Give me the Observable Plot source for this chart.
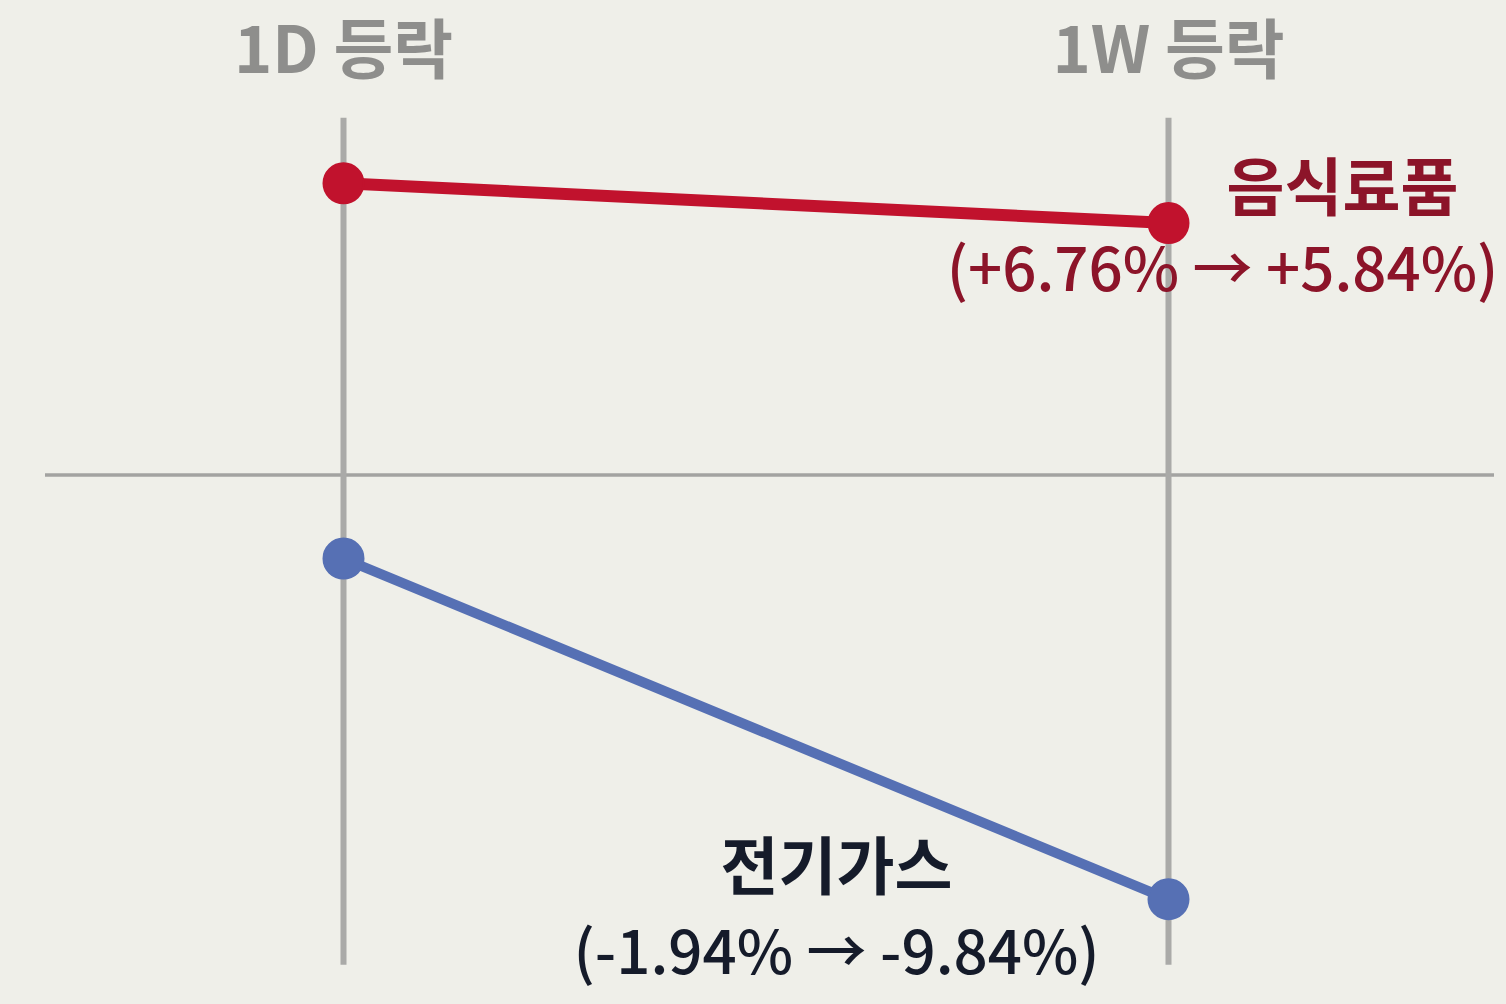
<!DOCTYPE html>
<html>
<head>
<meta charset="utf-8">
<script src="https://cdn.jsdelivr.net/npm/d3@7"></script>
<script src="https://cdn.jsdelivr.net/npm/@observablehq/plot@0.6"></script>
<style>
  html, body { margin: 0; padding: 0; background: #efefe9; }
  #chart svg { display: block; }
</style>
</head>
<body>
<div id="chart"></div>
<script>
// ---- data ----
const periods = ["1D 등락", "1W 등락"];
const sectors = ["음식료품", "전기가스"];
const food = [6.76, 5.84];      // 음식료품: 1D, 1W (%)
const power = [-1.94, -9.84];   // 전기가스: 1D, 1W (%)
const sectorLabels = ["(+6.76% → +5.84%)", "(-1.94% → -9.84%)"];
const gridExtent = [8.27, -11.37]; // vertical guide extent (%)
const yDomain = [-12.28, 11.0];

const colors = { "음식료품": "#c1122d", "전기가스": "#5670b4" };
const textColors = { "음식료품": "#8c1429", "전기가스": "#151b2a" };

const rows = [];
periods.forEach((p, i) => {
  rows.push({ sector: sectors[0], period: p, value: food[i] });
  rows.push({ sector: sectors[1], period: p, value: power[i] });
});
const ends = rows.filter(d => d.period === periods[1]);

const font = "'Noto Sans CJK KR', 'Noto Sans', sans-serif";

const chart = Plot.plot({
  width: 1506,
  height: 1004,
  margin: 0,
  style: { background: "#efefe9", fontFamily: font, overflow: "visible" },
  x: { type: "point", domain: periods, range: [343, 1168], padding: 0, axis: null },
  y: { domain: yDomain, range: [1004, 0], axis: null },
  marks: [
    Plot.ruleY([0], { stroke: "#a3a3a1", strokeWidth: 3.5, insetLeft: 45, insetRight: 12 }),
    Plot.ruleX(periods, { x: d => d, y1: gridExtent[0], y2: gridExtent[1], stroke: "#aaaaa8", strokeWidth: 6 }),
    Plot.text(periods, { x: d => d, frameAnchor: "top", lineAnchor: "middle", dy: 52, text: d => d, fontSize: 65, fontWeight: 700, fill: "#8e8e8c" }),
    Plot.line(rows.filter(d => d.sector === sectors[0]), { x: "period", y: "value", stroke: colors[sectors[0]], strokeWidth: 12 }),
    Plot.line(rows.filter(d => d.sector === sectors[1]), { x: "period", y: "value", stroke: colors[sectors[1]], strokeWidth: 10 }),
    Plot.dot(rows, { x: "period", y: "value", r: 20, fill: d => colors[d.sector], stroke: d => colors[d.sector], strokeWidth: 2 }),
    // 음식료품 labels
    Plot.text(ends.filter(d => d.sector === sectors[0]), { x: "period", y: "value", text: "sector", dx: 174, dy: -33, fontSize: 63, fontWeight: 700, fill: textColors[sectors[0]] }),
    Plot.text(ends.filter(d => d.sector === sectors[0]), { x: "period", y: "value", text: () => sectorLabels[0], dx: 54, dy: 49, fontSize: 60, fontWeight: 500, fill: textColors[sectors[0]], letterSpacing: -1.3 }),
    // 전기가스 labels
    Plot.text(ends.filter(d => d.sector === sectors[1]), { x: "period", y: "value", text: "sector", dx: -332, dy: -30, fontSize: 63, fontWeight: 700, fill: textColors[sectors[1]] }),
    Plot.text(ends.filter(d => d.sector === sectors[1]), { x: "period", y: "value", text: () => sectorLabels[1], dx: -332, dy: 56, fontSize: 60, fontWeight: 500, fill: textColors[sectors[1]], letterSpacing: -1.3 })
  ]
});
document.getElementById("chart").append(chart);
</script>
</body>
</html>
